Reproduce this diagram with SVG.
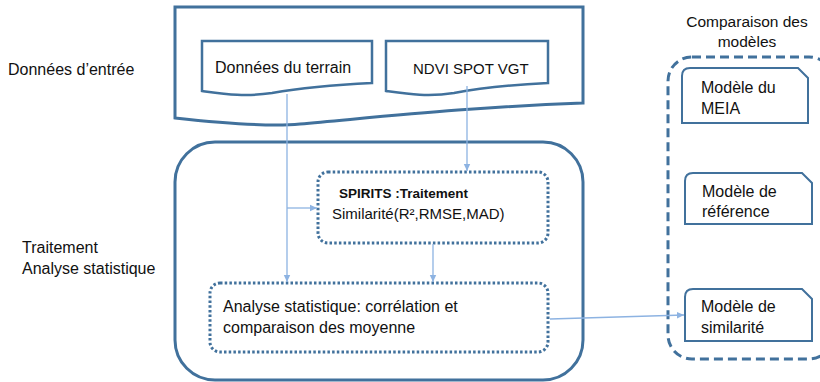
<svg xmlns="http://www.w3.org/2000/svg" width="820" height="382" viewBox="0 0 820 382">
<style>
text{font-family:"Liberation Sans",Arial,sans-serif;font-size:16px;fill:#111}
.solid{fill:#fff;stroke:#41719c;stroke-width:3;stroke-linejoin:miter}
.inner{fill:#fff;stroke:#41719c;stroke-width:2.5}
.dot{fill:#fff;stroke:#41719c;stroke-width:3;stroke-dasharray:2.5 2.2}
.dash{fill:none;stroke:#41719c;stroke-width:3;stroke-dasharray:9 5}
.snip{fill:#fff;stroke:#41719c;stroke-width:2}
.conn{fill:none;stroke:#8db3e2;stroke-width:1.3}
</style>
<defs>
<marker id="ah" markerWidth="8" markerHeight="8" refX="7" refY="4" orient="auto" markerUnits="userSpaceOnUse">
<path d="M0,0.8 L7,4 L0,7.2 Z" fill="#8db3e2"/>
</marker>
</defs>
<rect width="820" height="382" fill="#fff"/>
<g id="labels">
<text x="8" y="75">Données d’entrée</text>
<text x="22" y="253">Traitement</text>
<text x="22" y="274">Analyse statistique</text>
<text x="747" y="27" text-anchor="middle" style="font-size:15.5px">Comparaison des</text>
<text x="747" y="47" text-anchor="middle" style="font-size:15.5px">modèles</text>
</g>
<g id="entree">
<path class="solid" d="M175,7 H583 V103 C470,107 380,117 300,124 C270,127 230,124 175,118 Z"/>
</g>
<g id="donnees-terrain">
<path class="inner" d="M202,41 H372 V83 C330,85 300,88 272,93 C245,97 225,94 202,91 Z"/>
<text x="215" y="73">Données du terrain</text>
</g>
<g id="ndvi">
<path class="inner" d="M386,41 H548 V83 C508,85 480,88 454,93 C428,97 408,94 386,91 Z"/>
<text x="413" y="74" style="font-size:15px">NDVI SPOT VGT</text>
</g>
<g id="traitement">
<rect class="solid" x="175" y="142" width="408" height="238" rx="40"/>
</g>
<g id="spirits">
<rect class="dot" x="318" y="172" width="230" height="71" rx="10"/>
<text x="339" y="198" style="font-weight:bold;font-size:13.5px">SPIRITS :Traitement</text>
<text x="332" y="219" style="font-size:15px">Similarité(R²,RMSE,MAD)</text>
</g>
<g id="analyse">
<rect class="dot" x="210" y="283" width="338" height="69" rx="10"/>
<text x="223" y="312">Analyse statistique: corrélation et</text>
<text x="223" y="333">comparaison des moyenne</text>
</g>
<g id="comparaison">
<rect class="dash" x="668" y="57" width="165" height="302" rx="24"/>
</g>
<g id="meia">
<path class="snip" d="M690,68 H798 L808,78 V123 H682 V76 Q682,68 690,68 Z"/>
<text x="701" y="93">Modèle du</text>
<text x="701" y="114">MEIA</text>
</g>
<g id="reference">
<path class="snip" d="M693,173 H802 L812,183 V224 H685 V181 Q685,173 693,173 Z"/>
<text x="702" y="197">Modèle de</text>
<text x="702" y="217">référence</text>
</g>
<g id="similarite">
<path class="snip" d="M693,289 H802 L812,299 V341 H685 V297 Q685,289 693,289 Z"/>
<text x="701" y="312">Modèle de</text>
<text x="701" y="333">similarité</text>
</g>
<g id="connectors">
<path class="conn" d="M287,94 V282" marker-end="url(#ah)"/>
<path class="conn" d="M287,208 H317" marker-end="url(#ah)"/>
<path class="conn" d="M467,86 V171" marker-end="url(#ah)"/>
<path class="conn" d="M433,244 V282" marker-end="url(#ah)"/>
<path class="conn" d="M550,319 L684,315" marker-end="url(#ah)"/>
</g>
</svg>
